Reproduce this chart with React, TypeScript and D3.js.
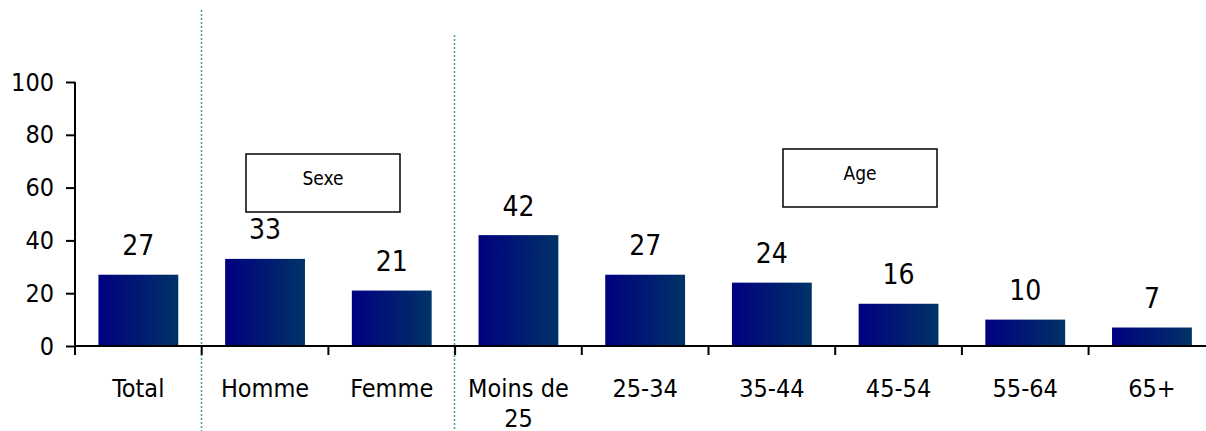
import React, {useRef, useEffect} from 'react';
import * as d3 from 'd3';

const categories = ['Total', 'Homme', 'Femme', 'Moins de 25', '25-34', '35-44', '45-54', '55-64', '65+'];
const categoryLines = [['Total'], ['Homme'], ['Femme'], ['Moins de', '25'], ['25-34'], ['35-44'], ['45-54'], ['55-64'], ['65+']];
const values = [27, 33, 21, 42, 27, 24, 16, 10, 7];
const yTicks = [0, 20, 40, 60, 80, 100];
const groupBoxes = [
    {label: 'Sexe', x: 246, y: 154},
    {label: 'Age', x: 783, y: 149},
];
const separators = [
    {after: 'Total', top: 10},
    {after: 'Femme', top: 35},
];

const width = 1206;
const height = 431;
const FONT = "Tahoma, 'DejaVu Sans Condensed', 'DejaVu Sans', sans-serif";

const App: React.FC = () => {
    const svgRef = useRef<SVGSVGElement>(null);

    useEffect(() => {
        if (!svgRef.current) return;
        const svg = d3.select(svgRef.current);
        svg.selectAll('*').remove();

        const x0 = 75;
        const step = 126.7;
        const x = d3.scaleBand<string>()
            .domain(categories)
            .range([x0, x0 + step * categories.length])
            .paddingInner(0.37)
            .paddingOuter(0.185);
        const y = d3.scaleLinear().domain([0, 100]).range([346, 82]);
        const gap = (x.step() - x.bandwidth()) / 2;

        // dégradé des barres
        const grad = svg.append('defs').append('linearGradient')
            .attr('id', 'barGrad')
            .attr('x1', '0%').attr('x2', '100%')
            .attr('y1', '0%').attr('y2', '0%');
        grad.append('stop').attr('offset', '0%').attr('stop-color', '#000080');
        grad.append('stop').attr('offset', '100%').attr('stop-color', '#003366');

        // séparateurs pointillés
        separators.forEach(s => {
            const sx = Math.round(x(s.after)! + x.bandwidth() + gap) - 0.5;
            svg.append('line')
                .attr('x1', sx).attr('x2', sx)
                .attr('y1', s.top).attr('y2', height)
                .style('stroke', '#3a9fa8')
                .style('stroke-width', 1.5)
                .style('stroke-dasharray', '2,2');
        });

        // barres
        svg.selectAll('.bar')
            .data(values)
            .enter()
            .append('rect')
            .attr('class', 'bar')
            .attr('x', (_, i) => x(categories[i])!)
            .attr('width', x.bandwidth())
            .attr('y', d => y(d))
            .attr('height', d => y(0) - y(d))
            .style('fill', 'url(#barGrad)');

        // étiquettes de valeur
        svg.selectAll('.val')
            .data(values)
            .enter()
            .append('text')
            .attr('class', 'val')
            .attr('x', (_, i) => x(categories[i])! + x.bandwidth() / 2)
            .attr('y', d => y(d) - 19.5)
            .attr('text-anchor', 'middle')
            .style('font-family', FONT)
            .style('font-size', '28px')
            .style('fill', '#000')
            .text(d => d);

        // axe Y
        const yAxis = svg.append('g')
            .attr('transform', `translate(${x0},0)`)
            .call(d3.axisLeft(y).tickValues(yTicks).tickSize(9).tickPadding(12).tickSizeOuter(0));
        yAxis.select('.domain').remove();
        yAxis.append('line')
            .attr('x1', 0).attr('x2', 0)
            .attr('y1', 82).attr('y2', 355)
            .style('stroke', '#000').style('stroke-width', 2);
        yAxis.selectAll('.tick line').style('stroke', '#000').style('stroke-width', 2);
        yAxis.selectAll('.tick text')
            .style('font-family', FONT)
            .style('font-size', '25px')
            .style('fill', '#000');

        // axe X
        svg.append('line')
            .attr('x1', x0 - 1).attr('x2', width)
            .attr('y1', y(0)).attr('y2', y(0))
            .style('stroke', '#000').style('stroke-width', 2);
        categories.slice(1).forEach(c => {
            const tx = x(c)! - gap;
            svg.append('line')
                .attr('x1', tx).attr('x2', tx)
                .attr('y1', y(0)).attr('y2', 355)
                .style('stroke', '#000').style('stroke-width', 2);
        });

        // libellés des catégories
        categoryLines.forEach((lines, i) => {
            const t = svg.append('text')
                .attr('x', x(categories[i])! + x.bandwidth() / 2)
                .attr('y', 397)
                .attr('text-anchor', 'middle')
                .style('font-family', FONT)
                .style('font-size', '25px')
                .style('fill', '#000');
            lines.forEach((l, j) => {
                t.append('tspan')
                    .attr('x', x(categories[i])! + x.bandwidth() / 2)
                    .attr('dy', j === 0 ? 0 : 30)
                    .text(l);
            });
        });

        // encadrés de groupe
        groupBoxes.forEach(b => {
            svg.append('rect')
                .attr('x', b.x).attr('y', b.y)
                .attr('width', 154).attr('height', 58)
                .style('fill', '#fff')
                .style('stroke', '#000')
                .style('stroke-width', 1.5);
            svg.append('text')
                .attr('x', b.x + 77)
                .attr('y', b.y + 31)
                .attr('text-anchor', 'middle')
                .style('font-family', FONT)
                .style('font-size', '19px')
                .style('fill', '#000')
                .text(b.label);
        });
    }, []);

    return (
        <div style={{position: 'fixed', left: 0, top: 0}}>
            <svg ref={svgRef} width={width} height={height} viewBox={`0 0 ${width} ${height}`} style={{display: 'block', background: '#fff'}}/>
        </div>
    );
};

export default App;
